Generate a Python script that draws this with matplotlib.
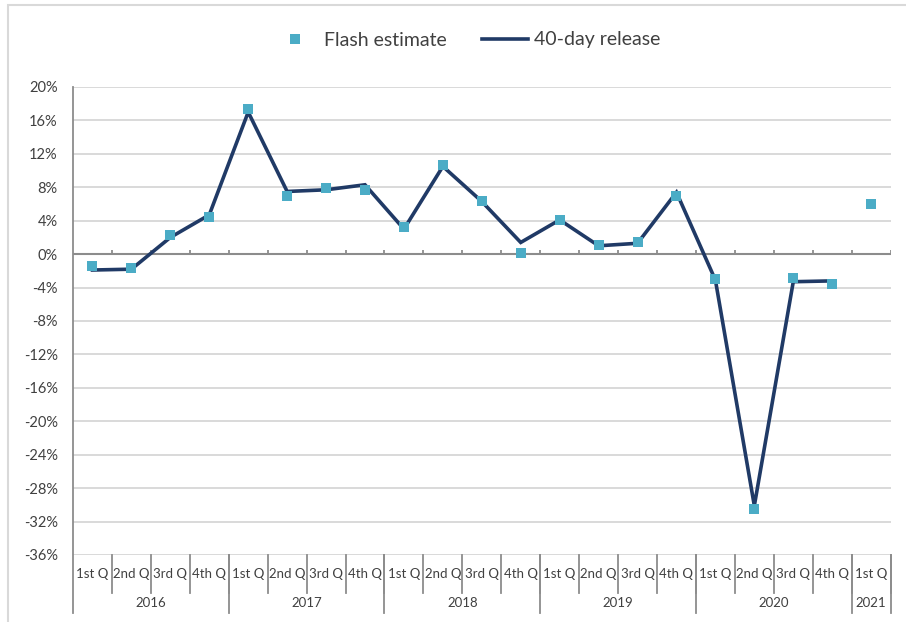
"""
Quarterly growth: flash estimate vs 40-day release, 2016 Q1 - 2021 Q1.
Writes: out.png
"""
import numpy as np
import matplotlib
matplotlib.use("Agg")
import matplotlib.pyplot as plt
from matplotlib.lines import Line2D
from matplotlib.patches import Rectangle
from matplotlib.transforms import blended_transform_factory

quarters = ["1st Q", "2nd Q", "3rd Q", "4th Q"] * 5 + ["1st Q"]
years = ["2016", "2017", "2018", "2019", "2020", "2021"]
year_len = [4, 4, 4, 4, 4, 1]

flash = [-1.4, -1.7, 2.3, 4.4, 17.4, 7.0, 7.9, 7.7, 3.3, 10.7, 6.3, 0.1,
         4.1, 1.1, 1.4, 6.9, -3.0, -30.5, -2.8, -3.6, 6.0]
release = [-1.9, -1.8, 2.0, 4.7, 17.0, 7.5, 7.7, 8.3, 3.0, 10.5, 6.3, 1.4,
           4.1, 1.0, 1.3, 7.4, -3.1, -30.1, -3.3, -3.2, np.nan]

yticks = list(range(20, -37, -4))

FLASH_C = "#4BACC6"
LINE_C = "#203A66"
GRID_C = "#D9D9D9"
AXIS_C = "#8C8C8C"
TEXT_C = "#404040"
FONT = ["Lato", "DejaVu Sans"]

plt.rcParams["font.family"] = FONT

W, H = 906, 622
fig = plt.figure(figsize=(W / 100, H / 100), dpi=100)

# outer frame
fig.patches.append(Rectangle((8 / W, -0.05), 1.2, 1 - 5 / H + 0.05,
                             transform=fig.transFigure, fill=False,
                             edgecolor=GRID_C, lw=1.5))

left, right, top, bottom = 73, 890.6, 87, 555
ax = fig.add_axes([left / W, 1 - bottom / H, (right - left) / W, (bottom - top) / H])

n = len(quarters)
xs = np.arange(n) + 0.5

ax.set_xlim(0, n)
ax.set_ylim(-36, 20)
for s in ax.spines.values():
    s.set_visible(False)

for v in yticks:
    if v != 0:
        ax.axhline(v, color=GRID_C, lw=1.4, zorder=1)
ax.axhline(0, color=AXIS_C, lw=1.5, zorder=2)
ax.vlines(np.arange(1, n + 1), 0, 0.5, color=AXIS_C, lw=1.3, zorder=2)

ax.plot(xs, release, color=LINE_C, lw=2.6, zorder=3, solid_joinstyle="miter")
ax.plot(xs, flash, "s", color=FLASH_C, markersize=7, zorder=4, markeredgewidth=0)

ax.set_yticks(yticks)
ax.set_yticklabels([f"{v}%" for v in yticks], fontsize=10.5, color=TEXT_C)
ax.set_xticks([])
ax.tick_params(axis="y", length=0, pad=11)

# category axis drawn below the plot
tr = blended_transform_factory(ax.transData, ax.transAxes)
plot_h = bottom - top
q_bot = -(593 - bottom) / plot_h
y_bot = -(613 - bottom) / plot_h
q_lab = -(574 - bottom) / plot_h
y_lab = -(603 - bottom) / plot_h

ax.plot([0, 0], [1, y_bot], color=AXIS_C, lw=1.3, transform=tr, clip_on=False)
for i in range(1, n + 1):
    ax.plot([i, i], [0, q_bot], color=AXIS_C, lw=1.3, transform=tr, clip_on=False)
for x, q in zip(xs, quarters):
    ax.text(x, q_lab, q, transform=tr, ha="center", va="center",
            fontsize=9.5, color=TEXT_C)

start = 0
for yr, ln in zip(years, year_len):
    end = start + ln
    ax.plot([end, end], [0, y_bot], color=AXIS_C, lw=1.3, transform=tr, clip_on=False)
    ax.text((start + end) / 2, y_lab, yr, transform=tr, ha="center", va="center",
            fontsize=9.5, color=TEXT_C)
    start = end

handles = [
    Line2D([], [], marker="s", linestyle="none", color=FLASH_C, markersize=7,
           markeredgewidth=0),
    Line2D([], [], color=LINE_C, lw=2.6),
]
fig.legend(handles, ["Flash estimate", "40-day release"], loc="center",
           bbox_to_anchor=(466 / W, 1 - 40 / H), ncol=2, frameon=False,
           fontsize=14, handlelength=2.4, handletextpad=0.3, columnspacing=1.8,
           labelcolor=TEXT_C)

fig.savefig("out.png", dpi=100)
plt.close()
